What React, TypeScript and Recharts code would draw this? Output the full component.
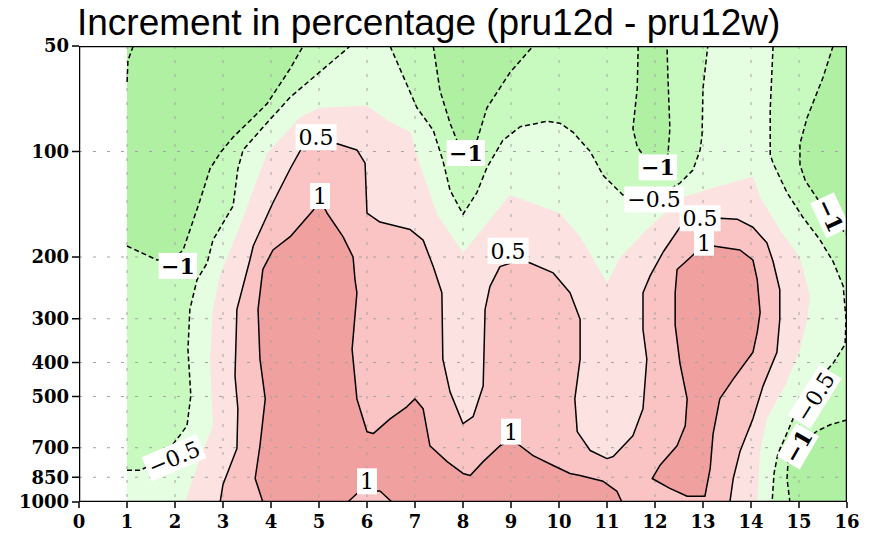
import React from 'react';
import { ScatterChart, Scatter, XAxis, YAxis } from 'recharts';

type Pt = { x: number; p: number };
type Tag = Pt & { text: string };

const xTicks = [0, 1, 2, 3, 4, 5, 6, 7, 8, 9, 10, 11, 12, 13, 14, 15, 16];
const pTicks = [50, 100, 200, 300, 400, 500, 700, 850, 1000];

// ---- contour lines (x, pressure in hPa) ----
const neg1West: Pt[] = [
  { x: 1.0, p: 186 }, { x: 1.63, p: 204 }, { x: 2.0, p: 201 }, { x: 2.17, p: 191 },
  { x: 2.52, p: 138 }, { x: 2.73, p: 112 }, { x: 2.94, p: 101 }, { x: 3.21, p: 91 },
  { x: 3.63, p: 80 }, { x: 3.92, p: 73 }, { x: 4.4, p: 58 }, { x: 4.67, p: 50 },
];
const neg15West: Pt[] = [{ x: 1.13, p: 50 }, { x: 1.02, p: 55 }, { x: 1.0, p: 64 }];
const neg05West: Pt[] = [
  { x: 1.0, p: 812 }, { x: 1.27, p: 812 }, { x: 1.69, p: 762 }, { x: 2.1, p: 646 },
  { x: 2.25, p: 606 }, { x: 2.33, p: 497 }, { x: 2.27, p: 367 }, { x: 2.31, p: 282 },
  { x: 2.46, p: 232 }, { x: 2.67, p: 208 }, { x: 2.79, p: 179 }, { x: 3.21, p: 143 },
  { x: 3.31, p: 112 }, { x: 3.42, p: 99 }, { x: 3.81, p: 86 }, { x: 4.4, p: 70 },
  { x: 5.23, p: 56 }, { x: 5.65, p: 50 },
];
const neg1Mid: Pt[] = [
  { x: 7.38, p: 50 }, { x: 7.52, p: 67 }, { x: 7.73, p: 83 }, { x: 7.9, p: 95 },
  { x: 8.06, p: 100 }, { x: 8.27, p: 95 }, { x: 8.5, p: 75 }, { x: 8.98, p: 59.5 },
  { x: 9.46, p: 50 },
];
const neg05Mid: Pt[] = [
  { x: 6.48, p: 50 }, { x: 7.04, p: 75 }, { x: 7.38, p: 87 }, { x: 7.58, p: 106 },
  { x: 7.73, p: 129 }, { x: 8.0, p: 151 }, { x: 8.29, p: 131 }, { x: 8.5, p: 111 },
  { x: 8.83, p: 93 }, { x: 9.19, p: 85 }, { x: 9.75, p: 82 }, { x: 10.02, p: 83 },
  { x: 10.29, p: 88 }, { x: 10.65, p: 100 }, { x: 10.92, p: 117 }, { x: 11.33, p: 133 },
  { x: 11.96, p: 137.5 }, { x: 12.52, p: 123 }, { x: 12.79, p: 113 }, { x: 12.94, p: 99 },
  { x: 12.98, p: 90 }, { x: 13.0, p: 66 }, { x: 13.1, p: 50 },
];
const neg1Strip: Pt[] = [
  { x: 11.65, p: 50 }, { x: 11.63, p: 66 }, { x: 11.54, p: 86 }, { x: 11.63, p: 97 },
  { x: 11.79, p: 104 }, { x: 12.1, p: 106 }, { x: 12.27, p: 102 }, { x: 12.31, p: 86 },
  { x: 12.27, p: 61.5 }, { x: 12.25, p: 50 },
];
const neg05East: Pt[] = [
  { x: 14.46, p: 50 }, { x: 14.4, p: 76 }, { x: 14.4, p: 102 }, { x: 14.46, p: 108 },
  { x: 14.75, p: 131 }, { x: 15.08, p: 154 }, { x: 15.44, p: 179 }, { x: 15.71, p: 206 },
  { x: 15.92, p: 242 }, { x: 15.98, p: 301 }, { x: 15.96, p: 355 }, { x: 15.71, p: 402 },
  { x: 15.33, p: 461 }, { x: 14.92, p: 560 }, { x: 14.71, p: 655 }, { x: 14.56, p: 728 },
  { x: 14.48, p: 829 }, { x: 14.44, p: 1000 },
];
const neg1NE: Pt[] = [
  { x: 15.71, p: 50 }, { x: 15.5, p: 61.5 }, { x: 15.17, p: 80 }, { x: 15.02, p: 95 },
  { x: 15.02, p: 109 }, { x: 15.13, p: 121 }, { x: 15.4, p: 137.5 }, { x: 15.75, p: 159 },
  { x: 16, p: 173 },
];
const neg1SE: Pt[] = [
  { x: 16, p: 583 }, { x: 15.65, p: 602 }, { x: 15.38, p: 627 }, { x: 15.02, p: 686 },
  { x: 14.81, p: 728 }, { x: 14.77, p: 777 }, { x: 14.75, p: 857 }, { x: 14.81, p: 1000 },
];
const zeroEdge: Pt[] = [
  { x: 2.21, p: 1000 }, { x: 2.52, p: 752 }, { x: 2.79, p: 606 }, { x: 2.73, p: 391 },
  { x: 2.79, p: 282 }, { x: 2.94, p: 224.5 }, { x: 3.35, p: 164 }, { x: 3.63, p: 129 },
  { x: 3.92, p: 101 }, { x: 4.6, p: 80 }, { x: 5.02, p: 75 }, { x: 6.0, p: 74 },
  { x: 6.42, p: 81.5 }, { x: 6.9, p: 88 }, { x: 7.1, p: 109 }, { x: 7.46, p: 151 },
  { x: 8.0, p: 194.5 }, { x: 8.98, p: 133 }, { x: 10.02, p: 150 }, { x: 10.44, p: 175 },
  { x: 11.0, p: 237 }, { x: 11.27, p: 201 }, { x: 11.83, p: 167 }, { x: 12.58, p: 135 },
  { x: 13.29, p: 126 }, { x: 14.04, p: 118 }, { x: 14.19, p: 135 }, { x: 14.6, p: 167 },
  { x: 15.02, p: 201 }, { x: 15.23, p: 259 }, { x: 15.17, p: 301 }, { x: 15.02, p: 366.5 },
  { x: 14.75, p: 454 }, { x: 14.33, p: 579 }, { x: 14.19, p: 718 }, { x: 14.13, p: 1000 },
];
const pos05: Pt[] = [
  { x: 2.94, p: 1000 }, { x: 3.0, p: 891 }, { x: 3.29, p: 704 }, { x: 3.31, p: 542 },
  { x: 3.25, p: 437 }, { x: 3.29, p: 282 }, { x: 3.56, p: 204 }, { x: 3.63, p: 186 },
  { x: 4.04, p: 140 }, { x: 4.4, p: 112 }, { x: 4.67, p: 96 }, { x: 5.38, p: 95 },
  { x: 5.79, p: 99 }, { x: 5.96, p: 108 }, { x: 6.0, p: 150 }, { x: 6.27, p: 159 },
  { x: 6.9, p: 167 }, { x: 7.17, p: 179 }, { x: 7.38, p: 213 }, { x: 7.56, p: 253 },
  { x: 7.58, p: 391 }, { x: 7.73, p: 485 }, { x: 8.0, p: 598 }, { x: 8.21, p: 571 },
  { x: 8.42, p: 467 }, { x: 8.46, p: 282 }, { x: 8.56, p: 243 }, { x: 8.77, p: 213 },
  { x: 9.19, p: 204 }, { x: 9.4, p: 208 }, { x: 9.88, p: 222 }, { x: 10.23, p: 253 },
  { x: 10.44, p: 301 }, { x: 10.44, p: 391 }, { x: 10.33, p: 508 }, { x: 10.38, p: 630 },
  { x: 10.65, p: 713 }, { x: 11.0, p: 752 }, { x: 11.13, p: 742 }, { x: 11.54, p: 647 },
  { x: 11.75, p: 542 }, { x: 11.83, p: 391 }, { x: 11.75, p: 322 }, { x: 11.75, p: 253 },
  { x: 11.9, p: 226 }, { x: 12.17, p: 193.5 }, { x: 12.52, p: 164.5 }, { x: 13.35, p: 155 },
  { x: 13.71, p: 156 }, { x: 14.04, p: 164.5 }, { x: 14.33, p: 182 }, { x: 14.46, p: 206 },
  { x: 14.6, p: 248 }, { x: 14.6, p: 301 }, { x: 14.54, p: 374 }, { x: 14.25, p: 467 },
  { x: 14.04, p: 579 }, { x: 13.77, p: 718 }, { x: 13.63, p: 857 }, { x: 13.56, p: 1000 },
];
const pos1West: Pt[] = [
  { x: 3.83, p: 1000 }, { x: 3.67, p: 857 }, { x: 3.77, p: 691 }, { x: 3.88, p: 508 },
  { x: 3.77, p: 391 }, { x: 3.73, p: 282 }, { x: 3.83, p: 217 }, { x: 4.04, p: 191 },
  { x: 4.4, p: 175 }, { x: 4.88, p: 147 }, { x: 5.02, p: 137.5 }, { x: 5.17, p: 150 },
  { x: 5.5, p: 175 }, { x: 5.71, p: 200 }, { x: 5.75, p: 232 }, { x: 5.79, p: 253 },
  { x: 5.69, p: 367 }, { x: 5.79, p: 508 }, { x: 6.0, p: 630 }, { x: 6.13, p: 638 },
  { x: 6.48, p: 579 }, { x: 6.83, p: 535 }, { x: 7.0, p: 508 }, { x: 7.17, p: 542 },
  { x: 7.31, p: 691 }, { x: 7.67, p: 767 }, { x: 8.0, p: 829 }, { x: 8.15, p: 840 },
  { x: 8.42, p: 767 }, { x: 8.77, p: 691 }, { x: 9.0, p: 665 }, { x: 9.19, p: 691 },
  { x: 9.46, p: 737 }, { x: 9.88, p: 787 }, { x: 10.23, p: 829 }, { x: 10.44, p: 840 },
  { x: 10.92, p: 873 }, { x: 11.21, p: 933 }, { x: 11.31, p: 1000 },
];
const pos1East: Pt[] = [
  { x: 13.02, p: 184.5 }, { x: 13.21, p: 186 }, { x: 13.77, p: 191 }, { x: 14.04, p: 204 },
  { x: 14.13, p: 232 }, { x: 14.19, p: 288 }, { x: 14.13, p: 328 }, { x: 14.04, p: 374 },
  { x: 13.63, p: 446 }, { x: 13.35, p: 508 }, { x: 13.21, p: 639 }, { x: 13.15, p: 802 },
  { x: 13.04, p: 963 }, { x: 12.67, p: 963 }, { x: 12.31, p: 914 }, { x: 11.94, p: 857 },
  { x: 12.1, p: 787 }, { x: 12.46, p: 691 }, { x: 12.63, p: 606 }, { x: 12.67, p: 508 },
  { x: 12.52, p: 402 }, { x: 12.42, p: 313 }, { x: 12.42, p: 253 }, { x: 12.46, p: 217 },
  { x: 12.73, p: 201 }, { x: 13.02, p: 184.5 },
];
const pos1Dip: Pt[] = [{ x: 5.6, p: 1000 }, { x: 5.85, p: 930 }, { x: 6.27, p: 930 }, { x: 6.52, p: 1000 }];

// plot corners used to close the shaded regions
const dataBox: Pt[] = [{ x: 1, p: 50 }, { x: 16, p: 50 }, { x: 16, p: 1000 }, { x: 1, p: 1000 }];
const frameBox: Pt[] = [{ x: 0, p: 50 }, { x: 16, p: 50 }, { x: 16, p: 1000 }, { x: 0, p: 1000 }];

const uprightTags: Tag[] = [
  { x: 4.94, p: 91, text: '0.5' },
  { x: 5.02, p: 134, text: '1' },
  { x: 2.06, p: 212, text: '−1' },
  { x: 8.06, p: 101, text: '−1' },
  { x: 8.94, p: 192, text: '0.5' },
  { x: 9.0, p: 630, text: '1' },
  { x: 6.0, p: 873, text: '1' },
  { x: 12.06, p: 111, text: '−1' },
  { x: 11.98, p: 137, text: '−0.5' },
  { x: 12.94, p: 155, text: '0.5' },
  { x: 13.02, p: 182, text: '1' },
];
const tiltedTags: Tag[] = [
  { x: 1.98, p: 747, text: '−0.5' },
  { x: 15.65, p: 152, text: '−1' },
  { x: 15.33, p: 501, text: '−0.5' },
  { x: 14.98, p: 694, text: '−1' },
];
const tiltAngles = [-23, 65, -58, -60];

const COLORS = {
  darkGreen: '#b0f0a2',
  midGreen: '#c8f9be',
  lightGreen: '#e5fde0',
  lightPink: '#fde2e2',
  midPink: '#fac4c4',
  darkPink: '#f1a0a0',
};

const shadings: { data: Pt[]; color: string }[] = [
  { data: dataBox, color: COLORS.lightGreen },
  { data: [...neg05West, { x: 1, p: 50 }], color: COLORS.midGreen },
  { data: neg05Mid, color: COLORS.midGreen },
  { data: [...neg05East, { x: 16, p: 1000 }, { x: 16, p: 50 }], color: COLORS.midGreen },
  { data: [...neg1West, { x: 1, p: 50 }], color: COLORS.darkGreen },
  { data: neg1Mid, color: COLORS.darkGreen },
  { data: neg1Strip, color: COLORS.darkGreen },
  { data: [...neg1NE, { x: 16, p: 50 }], color: COLORS.darkGreen },
  { data: [...neg1SE, { x: 16, p: 1000 }], color: COLORS.darkGreen },
  { data: zeroEdge, color: COLORS.lightPink },
  { data: pos05, color: COLORS.midPink },
  { data: pos1West, color: COLORS.darkPink },
  { data: pos1East, color: COLORS.darkPink },
  { data: pos1Dip, color: COLORS.midPink },
];

// dotted reference grid at every tick, drawn over the shading
const gridSegments: Pt[][] = [
  ...xTicks.slice(1, -1).map((x) => [{ x, p: 50 }, { x, p: 1000 }]),
  ...pTicks.slice(1, -1).map((p) => [{ x: 0, p }, { x: 16, p }]),
];

const dashedLines = [neg1West, neg15West, neg05West, neg1Mid, neg05Mid, neg1Strip, neg05East, neg1NE, neg1SE];
const solidLines = [pos05, pos1West, pos1East, pos1Dip];

const toPath = (pts: { x: number; y: number }[], close: boolean) =>
  pts.map((pt, i) => `${i ? 'L' : 'M'}${pt.x},${pt.y}`).join('') + (close ? 'Z' : '');

const fillLine = (color: string) => (props: any) =>
  <path d={toPath(props.points, true)} fill={color} stroke="none" />;

const strokeLine = (dash?: string, width = 1.5, close = false, color = '#000') => (props: any) =>
  (
    <path
      d={toPath(props.points, close)}
      fill="none"
      stroke={color}
      strokeWidth={width}
      strokeDasharray={dash}
      strokeLinejoin="round"
    />
  );

const noDot = () => <g />;

const labelFont = 22;
const glyphEm = (ch: string) => (ch === '−' ? 0.838 : ch === '.' ? 0.318 : 0.636);

const tagShape = (angle: number) => (props: any) => {
  const { cx, cy, payload } = props;
  const text: string = payload.text;
  const w = [...text].reduce((s, ch) => s + glyphEm(ch), 0) * labelFont + 6;
  return (
    <g transform={`translate(${cx},${cy}) rotate(${angle})`}>
      <rect x={-w / 2} y={-13} width={w} height={26} fill="#fff" />
      <text
        x={0}
        y={8}
        textAnchor="middle"
        fontFamily="DejaVu Serif"
        fontSize={labelFont}
        fontWeight={text === '−1' ? 'bold' : 'normal'}
        fill="#000"
      >
        {text}
      </text>
    </g>
  );
};

const tickStyle = { fill: '#000', fontSize: 18, fontWeight: 'bold', fontFamily: 'DejaVu Serif' };

export default function App() {
  return (
    <div style={{ position: 'absolute', left: 0, top: 0, width: 877, height: 536, background: '#fff' }}>
      <div
        style={{
          position: 'absolute',
          left: 77,
          top: 4,
          fontFamily: 'Liberation Sans, Arial, sans-serif',
          fontSize: 37,
          lineHeight: '37px',
          color: '#000',
          whiteSpace: 'nowrap',
        }}
      >
        Increment in percentage (pru12d - pru12w)
      </div>
      <ScatterChart width={877} height={536} margin={{ top: 46, right: 30, bottom: 0, left: 0 }}>
        <XAxis
          type="number"
          dataKey="x"
          domain={[0, 16]}
          ticks={xTicks}
          interval={0}
          height={34}
          axisLine={false}
          tickSize={6}
          tickMargin={7}
          tickLine={{ stroke: '#000', strokeWidth: 1.5 }}
          tick={tickStyle}
          allowDataOverflow
        />
        <YAxis
          type="number"
          dataKey="p"
          scale="log"
          domain={[50, 1000]}
          ticks={pTicks}
          interval={0}
          reversed
          width={79}
          axisLine={false}
          tickSize={7}
          tickMargin={3}
          tickLine={{ stroke: '#000', strokeWidth: 1.5 }}
          tick={tickStyle}
          allowDataOverflow
        />
        {shadings.map((s, i) => (
          <Scatter
            key={`fill-${i}`}
            data={s.data}
            line={fillLine(s.color)}
            shape={noDot}
            legendType="none"
            isAnimationActive={false}
          />
        ))}
        {gridSegments.map((g, i) => (
          <Scatter
            key={`grid-${i}`}
            data={g}
            line={strokeLine('3 11', 1, false, '#a3a3a3')}
            shape={noDot}
            legendType="none"
            isAnimationActive={false}
          />
        ))}
        {dashedLines.map((d, i) => (
          <Scatter
            key={`neg-${i}`}
            data={d}
            line={strokeLine('5 3')}
            shape={noDot}
            legendType="none"
            isAnimationActive={false}
          />
        ))}
        {solidLines.map((d, i) => (
          <Scatter
            key={`pos-${i}`}
            data={d}
            line={strokeLine(undefined)}
            shape={noDot}
            legendType="none"
            isAnimationActive={false}
          />
        ))}
        <Scatter data={uprightTags} shape={tagShape(0)} legendType="none" isAnimationActive={false} />
        {tiltedTags.map((t, i) => (
          <Scatter
            key={`tilt-${i}`}
            data={[t]}
            shape={tagShape(tiltAngles[i])}
            legendType="none"
            isAnimationActive={false}
          />
        ))}
        <Scatter
          data={frameBox}
          line={strokeLine(undefined, 2.5, true)}
          shape={noDot}
          legendType="none"
          isAnimationActive={false}
        />
      </ScatterChart>
    </div>
  );
}
